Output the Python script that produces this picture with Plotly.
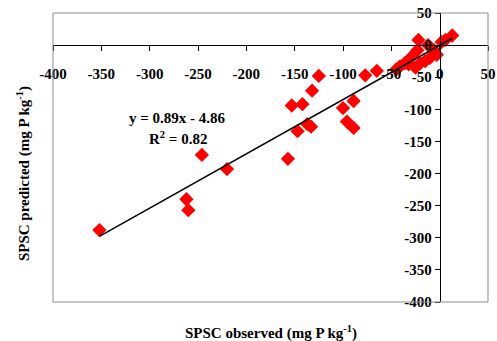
import numpy as np
import plotly.graph_objects as go

# Observed vs predicted SPSC (mg P kg-1)
spsc_observed = [-352, -262, -260, -246, -220, -157, -153, -147, -142, -137, -133, -132,
                 -125, -100, -96, -89, -89, -77, -65,
                 -45, -41, -36, -32, -29, -25, -22, -23, -20, -15, -12, -10, -6, -3, 2, 6, 13]
spsc_predicted = [-288, -240, -257, -171, -193, -177, -94, -134, -92, -123, -127, -71,
                  -48, -98, -119, -129, -87, -47, -40,
                  -38, -33, -28, -30, -18, -35, 8, -8, -28, -25, 0, -20, -8, -15, 5, 8, 15]

x_ticks = list(range(-400, 51, 50))
y_ticks = list(range(-400, 51, 50))
equation_text = "y = 0.89x - 4.86"
r2_text = "R<sup>2</sup> = 0.82"
x_title = "SPSC observed (mg P kg<sup>-1</sup>)"
y_title = "SPSC predicted (mg P kg<sup>-1</sup>)"

xo = np.array(spsc_observed, dtype=float)
yp = np.array(spsc_predicted, dtype=float)
slope, intercept = np.polyfit(xo, yp, 1)
x_line = np.array([xo.min(), xo.max()])
y_line = slope * x_line + intercept

FONT = "Liberation Serif"
bold = lambda s: "<b>" + s + "</b>"

fig = go.Figure()
fig.add_trace(go.Scatter(
    x=spsc_observed, y=spsc_predicted, mode="markers",
    marker=dict(symbol="diamond", size=11, color="#FF0000", line=dict(width=0)),
    showlegend=False, hoverinfo="skip"))
fig.add_trace(go.Scatter(
    x=x_line, y=y_line, mode="lines",
    line=dict(color="black", width=1.5), showlegend=False, hoverinfo="skip"))

tick_font = dict(family=FONT, size=15, color="black")
fig.update_layout(
    width=497, height=341,
    margin=dict(l=53, r=9, t=13, b=39),
    paper_bgcolor="white", plot_bgcolor="white",
    font=dict(family=FONT, size=15, color="black"),
    hovermode=False,
    xaxis=dict(range=[-400, 50], tickvals=x_ticks, ticktext=[bold(str(v)) for v in x_ticks],
               anchor="free", position=400/450, side="bottom", automargin=False,
               showline=True, linecolor="black", linewidth=1,
               ticks="outside", ticklen=5, tickcolor="black", tickwidth=1,
               showgrid=False, zeroline=False, ticklabelstandoff=10,
               tickfont=tick_font),
    yaxis=dict(range=[-400, 50], tickvals=y_ticks, ticktext=[bold(str(v)) for v in y_ticks],
               anchor="free", position=400/450, side="left", automargin=False,
               showline=True, linecolor="black", linewidth=1,
               ticks="outside", ticklen=5, tickcolor="black", tickwidth=1,
               showgrid=False, zeroline=False,
               tickfont=tick_font),
    shapes=[dict(type="rect", xref="paper", yref="paper", x0=0, y0=0, x1=1, y1=1,
                 line=dict(color="#8c8c8c", width=1), layer="above")],
    annotations=[
        dict(text=bold(equation_text), x=-271, y=-113, xref="x", yref="y", showarrow=False,
             font=tick_font),
        dict(text=bold(r2_text), x=-271, y=-145, xref="x", yref="y", showarrow=False,
             font=tick_font),
        dict(text=bold(x_title), x=0.5, y=-0.104, xref="paper", yref="paper", showarrow=False,
             yanchor="middle", font=tick_font),
        dict(text=bold(y_title), x=-0.069, y=0.446, xref="paper", yref="paper", showarrow=False,
             xanchor="center", yanchor="middle", textangle=-90, font=tick_font),
    ],
)

# remove the browser's default 8px body margin so the figure fills the window
fig.write_html("out.html", config={"displayModeBar": False},
               post_script="document.body.style.margin='0';document.body.style.overflow='hidden';")
